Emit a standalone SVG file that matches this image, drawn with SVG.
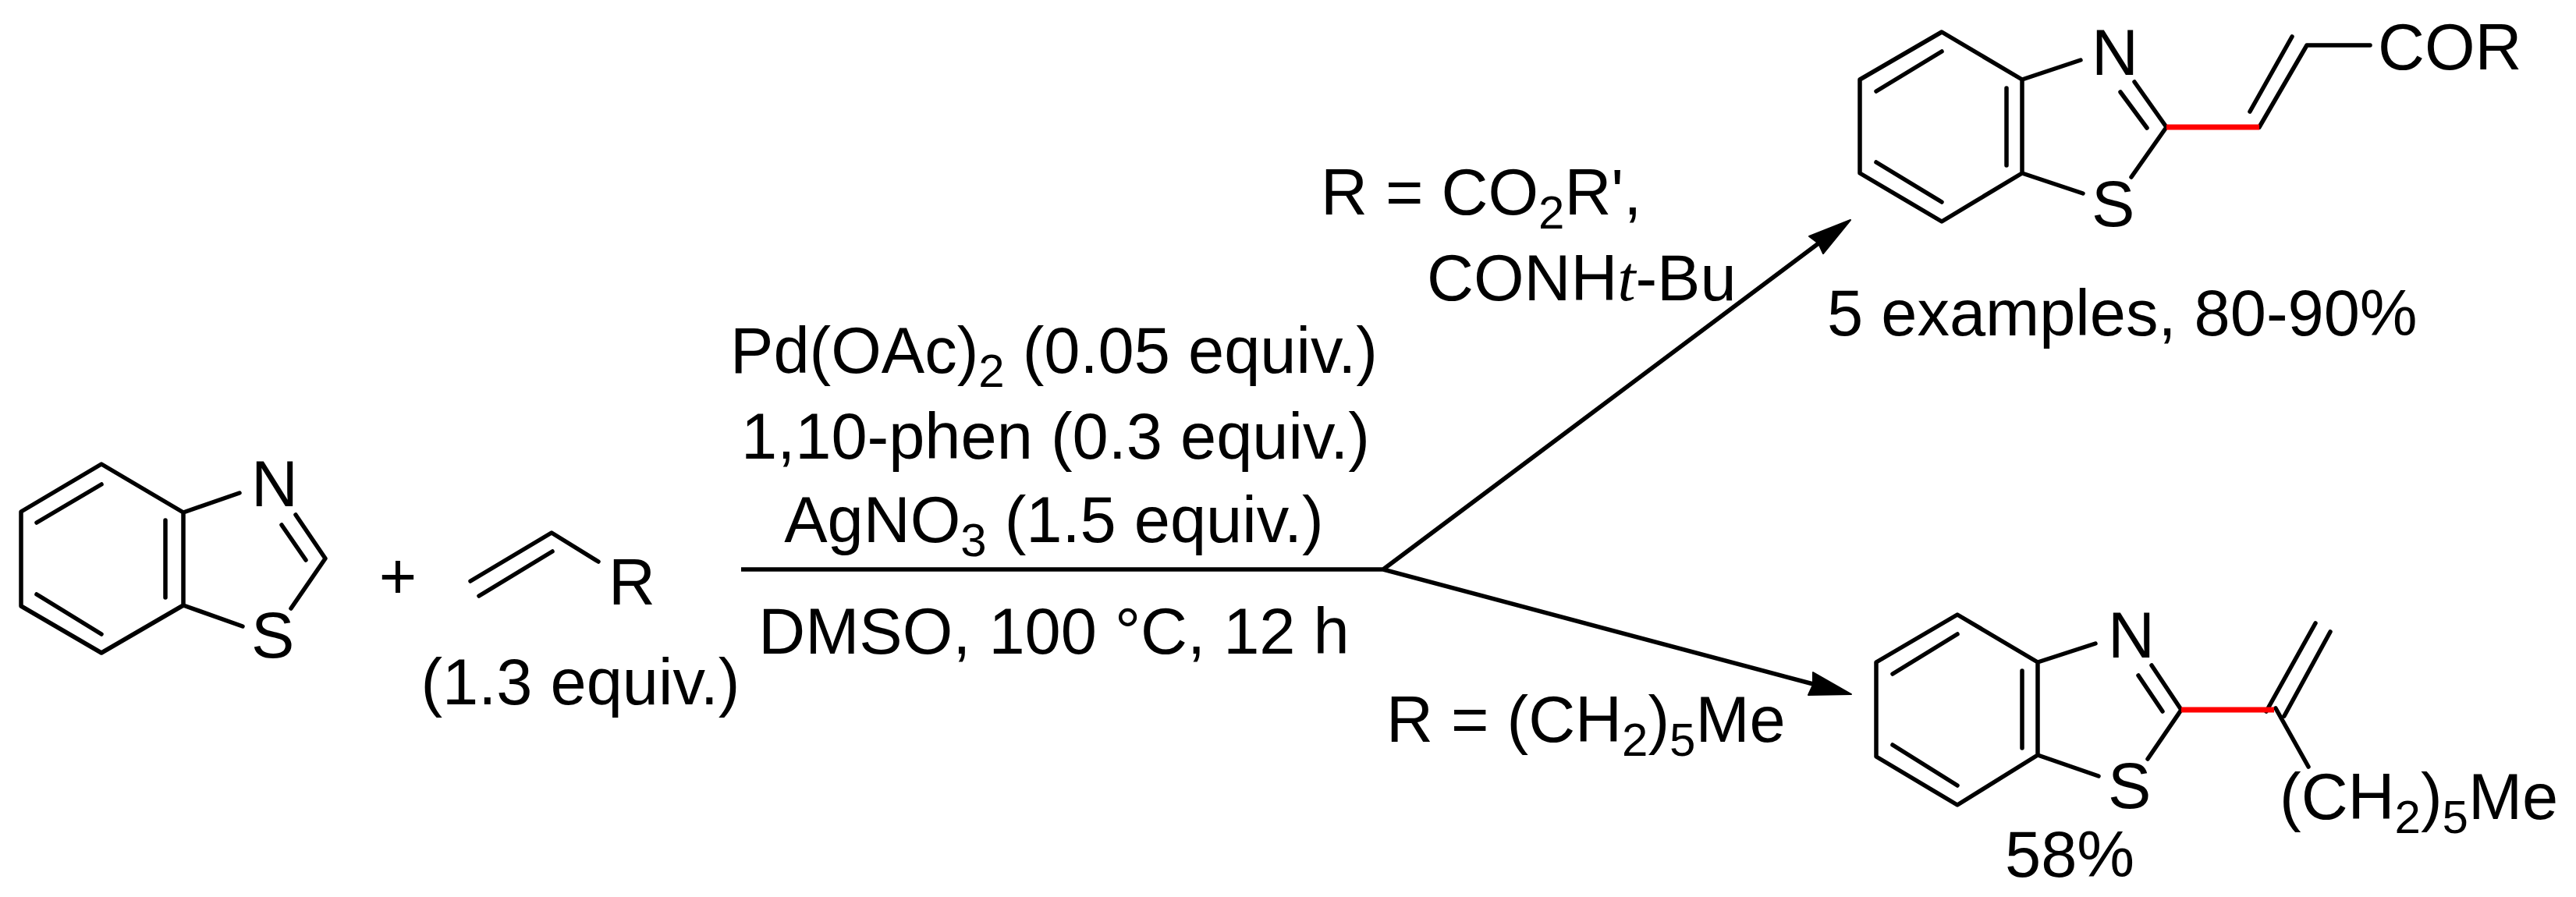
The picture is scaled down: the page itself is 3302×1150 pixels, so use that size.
<svg xmlns="http://www.w3.org/2000/svg" width="3302" height="1150" viewBox="0 0 3302 1150">
<style>
text{font-family:"Liberation Sans",Arial,sans-serif;font-size:83px;fill:#000}
.sub{font-size:60px}
.b{fill:none;stroke:#000;stroke-width:5.5;stroke-linecap:round;stroke-linejoin:round}
.red{fill:none;stroke:#f00;stroke-width:7}
.arrow{fill:none;stroke:#000;stroke-width:5.5}
.head{fill:#000;stroke:#000;stroke-width:2;stroke-linejoin:round}
.m{text-anchor:middle}
</style>
<rect width="3302" height="1150" fill="#fff"/>
<g id="benzothiazole">
<path class="b" d="M130 595L235 657V776L130 837L27 777V656ZM130 621L47 670M47 762L130 813M212 667V766M235 657L307 632M379 660L417 716L373 780M361 673L392 718M235 776L311 803"/>
<text x="322" y="649">N</text>
<text x="322" y="843">S</text>
</g>
<g id="plus"><text x="510" y="767" class="m">+</text></g>
<g id="alkene">
<path class="b" d="M603 745L707 683L767 720M614 764L708 707"/>
<text x="780" y="775">R</text>
<text x="744" y="903" class="m">(1.3 equiv.)</text>
</g>
<g id="conditions">
<text x="1351" y="478" class="m">Pd(OAc)<tspan class="sub" dy="18">2</tspan><tspan dy="-18"> (0.05 equiv.)</tspan></text>
<text x="1353" y="588" class="m">1,10-phen (0.3 equiv.)</text>
<text x="1351" y="695" class="m">AgNO<tspan class="sub" dy="18">3</tspan><tspan dy="-18"> (1.5 equiv.)</tspan></text>
<text x="1351" y="838" class="m">DMSO, 100 °C, 12 h</text>
</g>
<g id="connectors">
<path class="arrow" d="M950 730H1773L2335 309M1773 730L2328 878"/>
<path class="head" d="M2372 282L2319 303L2331 312L2337 325Z"/>
<path class="head" d="M2373 890L2324 862L2324 878L2318 891Z"/>
</g>
<g id="label-upper">
<text x="1693" y="275">R = CO<tspan class="sub" dy="18">2</tspan><tspan dy="-18">R',</tspan></text>
<text x="1829" y="385">CONH<tspan font-family="Liberation Serif" font-style="italic">t</tspan>-Bu</text>
</g>
<g id="label-lower">
<text x="1777" y="951">R = (CH<tspan class="sub" dy="18">2</tspan><tspan dy="-18">)</tspan><tspan class="sub" dy="18">5</tspan><tspan dy="-18">Me</tspan></text>
</g>
<g id="product-upper">
<path class="b" d="M2489 41L2592 102V222L2489 284L2384 222V102ZM2489 66L2405 117M2405 208L2489 259M2572 113V212M2592 102L2667 77M2736 105L2777 163L2732 227M2718 118L2752 164M2592 222L2670 248M2896 163L2957 58H3038M2884 143L2938 47"/>
<path class="red" d="M2777 163H2896"/>
<text x="2681" y="96">N</text>
<text x="2681" y="290">S</text>
<text x="3048" y="89">COR</text>
<text x="2342" y="430">5 examples, 80-90%</text>
</g>
<g id="product-lower">
<path class="b" d="M2509 788L2612 849V968L2509 1032L2405 970V849ZM2509 813L2426 864M2426 955L2509 1007M2592 860V959M2612 849L2686 825M2758 853L2796 910L2753 973M2741 866L2772 912M2612 968L2690 995M2917 908L2959 983M2928 918L2987 810M2905 912L2968 799"/>
<path class="red" d="M2796 910H2915"/>
<text x="2702" y="843">N</text>
<text x="2702" y="1036">S</text>
<text x="2922" y="1050">(CH<tspan class="sub" dy="18">2</tspan><tspan dy="-18">)</tspan><tspan class="sub" dy="18">5</tspan><tspan dy="-18">Me</tspan></text>
<text x="2570" y="1124">58%</text>
</g>
</svg>
